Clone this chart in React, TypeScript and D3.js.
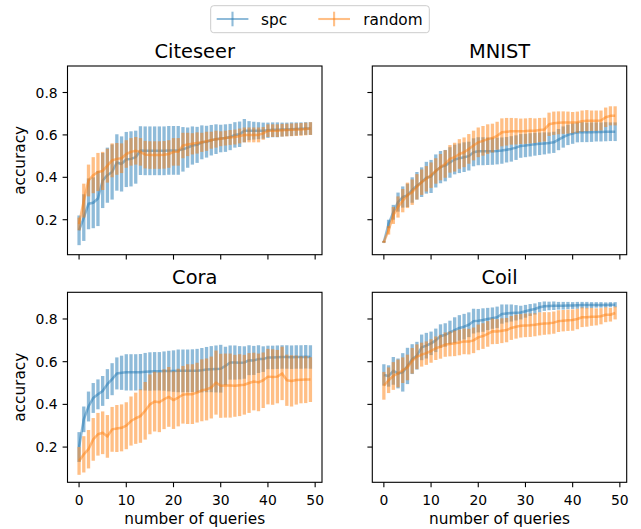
import React from 'react';
import * as d3 from 'd3';

const queries = d3.range(50);
const xTicks = [0, 10, 20, 30, 40, 50];
const yTicks = [0.2, 0.4, 0.6, 0.8];
const seriesNames = ['spc', 'random'];
const panelTitles = ['Citeseer', 'MNIST', 'Cora', 'Coil'];

const citeSpc = [0.15,0.21,0.275,0.28,0.30,0.385,0.41,0.425,0.47,0.463, 0.484,0.487,0.495,0.526,0.525,0.525,0.525,0.525,0.525,0.527, 0.527,0.527,0.532,0.54,0.55,0.553,0.565,0.568,0.575,0.58, 0.583,0.585,0.59,0.60,0.603,0.62,0.62,0.62,0.62,0.62, 0.622,0.624,0.624,0.625,0.626,0.627,0.628,0.629,0.63,0.63];
const citeSpcStd = [0.07,0.11,0.12,0.12,0.13,0.13,0.13,0.13,0.133,0.13, 0.13,0.13,0.125,0.115,0.115,0.115,0.115,0.115,0.115,0.115, 0.115,0.115,0.105,0.095,0.09,0.085,0.08,0.075,0.072,0.07, 0.065,0.065,0.062,0.06,0.06,0.055,0.045,0.042,0.04,0.038, 0.036,0.035,0.035,0.033,0.032,0.032,0.031,0.03,0.03,0.03];
const citeRand = [0.18,0.29,0.385,0.41,0.425,0.43,0.455,0.48,0.487,0.49, 0.51,0.52,0.525,0.52,0.507,0.505,0.505,0.505,0.506,0.51, 0.52,0.52,0.55,0.555,0.558,0.562,0.565,0.57,0.575,0.58, 0.582,0.585,0.588,0.59,0.595,0.60,0.60,0.60,0.60,0.607, 0.62,0.62,0.62,0.622,0.623,0.624,0.625,0.626,0.628,0.63];
const citeRandStd = [0.03,0.08,0.075,0.085,0.09,0.09,0.08,0.08,0.075,0.07, 0.065,0.065,0.065,0.065,0.065,0.065,0.065,0.065,0.065,0.065, 0.065,0.065,0.06,0.055,0.05,0.05,0.045,0.045,0.04,0.04, 0.035,0.035,0.035,0.035,0.035,0.035,0.035,0.035,0.035,0.03, 0.03,0.03,0.03,0.03,0.03,0.03,0.03,0.03,0.03,0.03];

const mnistSpc = [0.095,0.18,0.235,0.283,0.307,0.315,0.34,0.36,0.377,0.398, 0.404,0.43,0.448,0.455,0.47,0.484,0.49,0.495,0.5,0.518, 0.523,0.523,0.523,0.523,0.524,0.526,0.53,0.534,0.54,0.548, 0.55,0.553,0.556,0.558,0.56,0.562,0.565,0.578,0.59,0.60, 0.606,0.612,0.613,0.612,0.613,0.614,0.614,0.615,0.615,0.615];
const mnistSpcStd = [0.005,0.02,0.035,0.045,0.05,0.055,0.06,0.065,0.07,0.075, 0.078,0.078,0.076,0.074,0.072,0.07,0.07,0.07,0.068,0.066, 0.066,0.066,0.065,0.064,0.063,0.062,0.06,0.06,0.058,0.056, 0.055,0.055,0.054,0.053,0.052,0.05,0.05,0.05,0.05,0.048, 0.048,0.047,0.047,0.046,0.046,0.045,0.045,0.045,0.044,0.044];
const mnistRand = [0.095,0.15,0.22,0.26,0.29,0.315,0.33,0.355,0.377,0.393, 0.41,0.43,0.448,0.463,0.487,0.495,0.51,0.518,0.534,0.55, 0.565,0.572,0.58,0.585,0.596,0.612,0.615,0.617,0.617,0.617, 0.618,0.62,0.62,0.623,0.625,0.65,0.655,0.657,0.658,0.658, 0.658,0.66,0.665,0.667,0.667,0.667,0.668,0.683,0.69,0.69];
const mnistRandStd = [0.005,0.02,0.04,0.05,0.055,0.06,0.06,0.06,0.06,0.06, 0.06,0.06,0.062,0.065,0.065,0.068,0.07,0.07,0.07,0.07, 0.07,0.07,0.07,0.068,0.066,0.066,0.065,0.063,0.062,0.06, 0.06,0.06,0.058,0.057,0.056,0.055,0.055,0.054,0.053,0.052, 0.05,0.05,0.05,0.05,0.048,0.048,0.047,0.046,0.045,0.045];

const coraSpc = [0.2,0.33,0.39,0.43,0.447,0.463,0.495,0.518,0.545,0.548, 0.55,0.55,0.55,0.551,0.553,0.554,0.555,0.555,0.556,0.556, 0.556,0.557,0.557,0.557,0.558,0.558,0.56,0.563,0.565,0.566, 0.567,0.58,0.596,0.596,0.595,0.596,0.607,0.606,0.612,0.612, 0.62,0.62,0.621,0.622,0.622,0.621,0.622,0.622,0.623,0.622];
const coraSpcStd = [0.07,0.06,0.07,0.07,0.07,0.07,0.07,0.075,0.075,0.08, 0.085,0.085,0.085,0.085,0.088,0.09,0.09,0.09,0.092,0.095, 0.097,0.10,0.10,0.10,0.10,0.102,0.104,0.106,0.108,0.11, 0.112,0.09,0.08,0.08,0.078,0.076,0.07,0.068,0.065,0.06, 0.055,0.055,0.055,0.055,0.055,0.055,0.055,0.055,0.055,0.055];
const coraRand = [0.135,0.166,0.19,0.236,0.26,0.267,0.25,0.283,0.287,0.29, 0.30,0.322,0.335,0.345,0.37,0.40,0.413,0.41,0.424,0.435, 0.42,0.432,0.445,0.448,0.448,0.455,0.466,0.47,0.479,0.502, 0.487,0.488,0.488,0.487,0.49,0.492,0.50,0.507,0.503,0.513, 0.53,0.528,0.53,0.545,0.513,0.51,0.514,0.515,0.516,0.516];
const coraRandStd = [0.065,0.085,0.09,0.1,0.1,0.1,0.1,0.105,0.11,0.11, 0.11,0.115,0.12,0.125,0.135,0.14,0.14,0.14,0.14,0.14, 0.135,0.135,0.135,0.14,0.14,0.14,0.145,0.145,0.145,0.15, 0.15,0.15,0.15,0.145,0.145,0.14,0.14,0.135,0.135,0.13, 0.13,0.13,0.125,0.125,0.12,0.12,0.115,0.11,0.11,0.105];

const coilSpc = [0.538,0.533,0.557,0.545,0.55,0.58,0.612,0.628,0.667,0.675, 0.686,0.70,0.72,0.725,0.737,0.748,0.758,0.764,0.773,0.79, 0.792,0.795,0.80,0.804,0.808,0.823,0.826,0.828,0.829,0.83, 0.836,0.842,0.847,0.855,0.86,0.861,0.862,0.862,0.862,0.863, 0.863,0.864,0.865,0.865,0.865,0.866,0.866,0.866,0.867,0.867];
const coilSpcStd = [0.05,0.05,0.065,0.07,0.09,0.085,0.07,0.065,0.06,0.06, 0.055,0.055,0.055,0.055,0.055,0.06,0.06,0.06,0.058,0.058, 0.055,0.055,0.052,0.05,0.05,0.045,0.042,0.04,0.036,0.032, 0.03,0.028,0.026,0.024,0.022,0.02,0.02,0.018,0.018,0.017, 0.016,0.016,0.015,0.015,0.014,0.013,0.013,0.012,0.012,0.012];
const coilRand = [0.487,0.513,0.533,0.545,0.56,0.573,0.604,0.623,0.633,0.64, 0.65,0.663,0.67,0.68,0.683,0.686,0.69,0.695,0.694,0.70, 0.714,0.72,0.73,0.742,0.741,0.745,0.748,0.758,0.764,0.768, 0.77,0.771,0.773,0.777,0.779,0.78,0.783,0.79,0.792,0.794, 0.795,0.80,0.808,0.808,0.81,0.81,0.813,0.82,0.82,0.828];
const coilRandStd = [0.065,0.06,0.065,0.065,0.06,0.06,0.06,0.058,0.056,0.055, 0.055,0.055,0.056,0.057,0.058,0.06,0.06,0.06,0.06,0.06, 0.06,0.06,0.06,0.06,0.058,0.058,0.057,0.056,0.056,0.055, 0.055,0.055,0.054,0.054,0.053,0.052,0.052,0.051,0.05,0.05, 0.05,0.048,0.046,0.044,0.042,0.04,0.038,0.035,0.032,0.03];

const COLORS = ['#1f77b4', '#ff7f0e'];
const FONT = 'DejaVu Sans, sans-serif';

const panels = [
  { title: panelTitles[0], row: 0, col: 0, series: [[citeSpc, citeSpcStd], [citeRand, citeRandStd]] },
  { title: panelTitles[1], row: 0, col: 1, series: [[mnistSpc, mnistSpcStd], [mnistRand, mnistRandStd]] },
  { title: panelTitles[2], row: 1, col: 0, series: [[coraSpc, coraSpcStd], [coraRand, coraRandStd]] },
  { title: panelTitles[3], row: 1, col: 1, series: [[coilSpc, coilSpcStd], [coilRand, coilRandStd]] },
];

const lefts = [67.5, 372.3];
const rights = [322, 626.7];
const tops = [66, 292.3];
const bottoms = [254.7, 482.3];

function Panel({ p }: { p: any }) {
  const x = d3.scaleLinear().domain([-2.45, 51.45]).range([lefts[p.col], rights[p.col]]);
  const y = d3.scaleLinear().domain([0.035, 0.925]).range([bottoms[p.row], tops[p.row]]);
  const line = d3.line<number>().x((_, i) => x(queries[i])).y((d) => y(d));
  const L = lefts[p.col], R = rights[p.col], T = tops[p.row], B = bottoms[p.row];
  return (
    <g>
      {p.series.map((s: number[][], si: number) => (
        <g key={si}>
          {queries.map((q, i) => (
            <line key={i} x1={x(q)} x2={x(q)} y1={y(s[0][i] - s[1][i])} y2={y(s[0][i] + s[1][i])}
              stroke={COLORS[si]} strokeOpacity={0.5} strokeWidth={3.3} />
          ))}
          <path d={line(s[0]) || ''} fill="none" stroke={COLORS[si]} strokeOpacity={0.5} strokeWidth={2.5} strokeLinejoin="round" />
        </g>
      ))}
      <rect x={L} y={T} width={R - L} height={B - T} fill="none" stroke="#000" strokeWidth={1.1} />
      {xTicks.map((t) => (
        <g key={'x' + t}>
          <line x1={x(t)} x2={x(t)} y1={B} y2={B + 4.9} stroke="#000" strokeWidth={1.1} />
          {p.row === 1 && (
            <text x={x(t)} y={B + 22.7} textAnchor="middle" fontSize={13.9} fontFamily={FONT}>{t}</text>
          )}
        </g>
      ))}
      {yTicks.map((t) => (
        <g key={'y' + t}>
          <line x1={L} x2={L - 4.9} y1={y(t)} y2={y(t)} stroke="#000" strokeWidth={1.1} />
          {p.col === 0 && (
            <text x={L - 9.8} y={y(t)} dy="0.36em" textAnchor="end" fontSize={13.9} fontFamily={FONT}>{t.toFixed(1)}</text>
          )}
        </g>
      ))}
      <text x={(L + R) / 2} y={T - 8.3} textAnchor="middle" fontSize={19.4} fontFamily={FONT}>{p.title}</text>
      {p.col === 0 && (
        <text transform={`translate(25,${(T + B) / 2}) rotate(-90)`} textAnchor="middle" fontSize={15.3} fontFamily={FONT}>accuracy</text>
      )}
      {p.row === 1 && (
        <text x={(L + R) / 2} y={524} textAnchor="middle" fontSize={15.3} fontFamily={FONT}>number of queries</text>
      )}
    </g>
  );
}

function Legend() {
  const items = [
    { name: seriesNames[0], x0: 216.7, tx: 261 },
    { name: seriesNames[1], x0: 318.3, tx: 363.3 },
  ];
  return (
    <g>
      <rect x={210.7} y={5.7} width={218.6} height={27} rx={3} fill="#fff" fillOpacity={0.8} stroke="#ccc" strokeWidth={1} />
      {items.map((it, i) => (
        <g key={i}>
          <line x1={it.x0} x2={it.x0 + 31.7} y1={19} y2={19} stroke={COLORS[i]} strokeOpacity={0.5} strokeWidth={2.1} />
          <line x1={it.x0 + 15.8} x2={it.x0 + 15.8} y1={11.7} y2={26.3} stroke={COLORS[i]} strokeOpacity={0.5} strokeWidth={2.1} />
          <text x={it.tx} y={24.5} fontSize={15.3} fontFamily={FONT}>{it.name}</text>
        </g>
      ))}
    </g>
  );
}

export default function App() {
  return (
    <svg width={641} height={529} style={{ position: 'absolute', left: 0, top: 0, background: '#fff' }}>
      <rect width={641} height={529} fill="#fff" />
      {panels.map((p, i) => <Panel key={i} p={p} />)}
      <Legend />
    </svg>
  );
}
